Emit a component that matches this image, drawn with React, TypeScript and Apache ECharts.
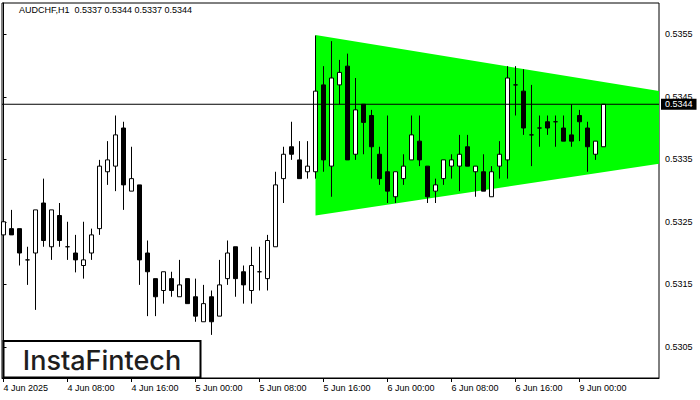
import React, { useEffect, useRef } from "react";
import * as echarts from "echarts";

const FONT = "'Liberation Sans', Arial, sans-serif";

const titleText = "AUDCHF,H1  0.5337 0.5344 0.5337 0.5344";
const currentPrice = 0.53438;
const currentPriceLabel = "0.5344";

const xTickIndex = [0, 8, 16, 24, 32, 40, 48, 56, 64, 72];
const xTickLabels = [
  "4 Jun 2025", "4 Jun 08:00", "4 Jun 16:00", "5 Jun 00:00", "5 Jun 08:00",
  "5 Jun 16:00", "6 Jun 00:00", "6 Jun 08:00", "6 Jun 16:00", "9 Jun 00:00",
];
const yTickValues = [0.5305, 0.5315, 0.5325, 0.5335, 0.5345, 0.5355];

const openP = [
  0.53229, 0.53239, 0.53239, 0.53189, 0.53200, 0.53280, 0.53210, 0.53260, 0.53210, 0.53200,
  0.53180, 0.53200, 0.53239, 0.53330, 0.53339, 0.53400, 0.53299, 0.53309, 0.53200, 0.53159,
  0.53140, 0.53159, 0.53130, 0.53159, 0.53130, 0.53090, 0.53130, 0.53099, 0.53159, 0.53210,
  0.53170, 0.53140, 0.53170, 0.53159, 0.53210, 0.53319, 0.53370, 0.53349, 0.53330, 0.53330,
  0.53469, 0.53339, 0.53469, 0.53499, 0.53358, 0.53438, 0.53420, 0.53358, 0.53330, 0.53290,
  0.53319, 0.53349, 0.53379, 0.53339, 0.53299, 0.53319, 0.53339, 0.53339, 0.53370, 0.53330,
  0.53330, 0.53290, 0.53339, 0.53349, 0.53469, 0.53459, 0.53389, 0.53400, 0.53410, 0.53410,
  0.53400, 0.53389, 0.53420, 0.53400, 0.53358, 0.53370,
];
const closeP = [
  0.53250, 0.53229, 0.53200, 0.53189, 0.53269, 0.53220, 0.53269, 0.53220, 0.53210, 0.53189,
  0.53189, 0.53229, 0.53339, 0.53349, 0.53389, 0.53309, 0.53319, 0.53189, 0.53170, 0.53130,
  0.53170, 0.53140, 0.53149, 0.53119, 0.53099, 0.53119, 0.53090, 0.53149, 0.53200, 0.53159,
  0.53149, 0.53180, 0.53170, 0.53220, 0.53309, 0.53358, 0.53358, 0.53319, 0.53339, 0.53459,
  0.53349, 0.53480, 0.53489, 0.53349, 0.53429, 0.53409, 0.53370, 0.53319, 0.53299, 0.53330,
  0.53339, 0.53389, 0.53349, 0.53290, 0.53309, 0.53349, 0.53349, 0.53358, 0.53339, 0.53339,
  0.53299, 0.53330, 0.53358, 0.53480, 0.53469, 0.53400, 0.53389, 0.53400, 0.53400, 0.53410,
  0.53379, 0.53379, 0.53410, 0.53370, 0.53379, 0.53438,
];
const lowP = [
  0.53189, 0.53229, 0.53180, 0.53149, 0.53109, 0.53210, 0.53189, 0.53210, 0.53189, 0.53169,
  0.53159, 0.53189, 0.53229, 0.53309, 0.53299, 0.53269, 0.53299, 0.53149, 0.53099, 0.53099,
  0.53119, 0.53130, 0.53130, 0.53119, 0.53090, 0.53090, 0.53069, 0.53099, 0.53149, 0.53130,
  0.53119, 0.53119, 0.53140, 0.53140, 0.53210, 0.53280, 0.53349, 0.53319, 0.53319, 0.53319,
  0.53330, 0.53290, 0.53438, 0.53349, 0.53349, 0.53358, 0.53319, 0.53309, 0.53280, 0.53280,
  0.53309, 0.53349, 0.53339, 0.53280, 0.53280, 0.53309, 0.53319, 0.53299, 0.53339, 0.53290,
  0.53299, 0.53290, 0.53319, 0.53319, 0.53420, 0.53389, 0.53339, 0.53370, 0.53389, 0.53370,
  0.53379, 0.53370, 0.53379, 0.53330, 0.53349, 0.53370,
];
const highP = [
  0.53260, 0.53269, 0.53239, 0.53210, 0.53269, 0.53319, 0.53269, 0.53280, 0.53250, 0.53229,
  0.53250, 0.53239, 0.53349, 0.53379, 0.53420, 0.53410, 0.53370, 0.53309, 0.53220, 0.53159,
  0.53170, 0.53170, 0.53189, 0.53159, 0.53159, 0.53149, 0.53140, 0.53189, 0.53220, 0.53210,
  0.53180, 0.53210, 0.53210, 0.53229, 0.53330, 0.53370, 0.53410, 0.53379, 0.53379, 0.53548,
  0.53499, 0.53539, 0.53509, 0.53519, 0.53480, 0.53438, 0.53429, 0.53370, 0.53420, 0.53330,
  0.53358, 0.53420, 0.53420, 0.53339, 0.53319, 0.53349, 0.53358, 0.53389, 0.53389, 0.53339,
  0.53358, 0.53339, 0.53379, 0.53499, 0.53499, 0.53494, 0.53469, 0.53420, 0.53420, 0.53420,
  0.53420, 0.53438, 0.53429, 0.53410, 0.53379, 0.53438,
];

// symmetrical triangle pattern (bar index, price)
const patternX = [39, 81.94];
const patternTop = [0.53549, 0.53459];
const patternBottom = [0.5326, 0.53343];

const X_MIN = -0.1875;
const X_MAX = 81.9375;

export default function App() {
  const ref = useRef<HTMLDivElement>(null);

  useEffect(() => {
    if (!ref.current) return;
    const chart = echarts.init(ref.current, undefined, { renderer: "svg" });

    const candles = openP.map((o, i) => [i, o, closeP[i], lowP[i], highP[i]]);
    const tri = [
      [patternX[0], patternTop[0]],
      [patternX[1], patternTop[1]],
      [patternX[1], patternBottom[1]],
      [patternX[0], patternBottom[0]],
    ];

    chart.setOption({
      animation: false,
      backgroundColor: "#ffffff",
      title: {
        text: titleText,
        left: 19,
        top: 5,
        padding: 0,
        textStyle: { fontSize: 9, fontWeight: "normal", color: "#000", fontFamily: FONT },
      },
      grid: {
        left: 2,
        right: 41,
        top: 3,
        bottom: 22,
        show: true,
        borderColor: "#000",
        borderWidth: 1,
        backgroundColor: "transparent",
      },
      xAxis: {
        type: "value",
        min: X_MIN,
        max: X_MAX,
        splitLine: { show: false },
        axisLine: { show: true, lineStyle: { color: "#000", width: 1 } },
        axisTick: { show: true, length: 4, lineStyle: { color: "#000" }, customValues: xTickIndex },
        axisLabel: {
          show: true,
          customValues: xTickIndex,
          align: "left",
          margin: 5,
          fontSize: 9,
          color: "#000",
          fontFamily: FONT,
          formatter: (v: number) => xTickLabels[xTickIndex.indexOf(Math.round(v))] ?? "",
        },
      },
      yAxis: {
        type: "value",
        position: "right",
        min: 0.53,
        max: 0.536,
        splitLine: { show: false },
        axisLine: { show: true, lineStyle: { color: "#000", width: 1 } },
        axisTick: { show: true, length: 3, lineStyle: { color: "#000" }, customValues: yTickValues },
        axisLabel: {
          show: true,
          customValues: yTickValues,
          margin: 6,
          fontSize: 9,
          color: "#000",
          fontFamily: FONT,
          formatter: (v: number) => v.toFixed(4),
        },
      },
      series: [
        {
          type: "custom",
          z: 1,
          silent: true,
          clip: true,
          encode: { x: 0, y: 1 },
          data: [[patternX[0], patternTop[0]]],
          renderItem: (_params: any, api: any) => {
            const pts = tri.map((p) => api.coord(p));
            return {
              type: "polygon",
              shape: { points: pts },
              style: { fill: "#00ff00", stroke: "none" },
            };
          },
        },
        {
          type: "candlestick",
          z: 3,
          barWidth: 4,
          encode: { x: 0, y: [1, 2, 3, 4] },
          data: candles,
          itemStyle: {
            color: "#ffffff",
            color0: "#000000",
            borderColor: "#000000",
            borderColor0: "#000000",
            borderColorDoji: "#000000",
            borderWidth: 1,
          },
        },
        {
          type: "line",
          z: 5,
          silent: true,
          clip: false,
          symbol: "none",
          data: [
            [X_MIN, currentPrice],
            [X_MAX, currentPrice],
          ],
          lineStyle: { color: "#000", width: 1 },
          endLabel: {
            show: true,
            distance: 2,
            formatter: currentPriceLabel,
            backgroundColor: "#000",
            color: "#fff",
            fontSize: 9,
            fontFamily: FONT,
            padding: [1, 4, 1, 4],
            lineHeight: 9,
          },
        },
      ],
      graphic: [
        {
          type: "group",
          z: 100,
          children: [
            {
              type: "rect",
              shape: { x: 3.5, y: 341, width: 197, height: 36.5 },
              style: { fill: "#fff", stroke: "#000", lineWidth: 2 },
            },
            {
              type: "text",
              x: 102,
              y: 360,
              style: {
                text: "InstaFintech",
                fontSize: 27,
                fontFamily: "Inter, 'Noto Sans', sans-serif",
                fontWeight: 500,
                fill: "#1e1e1e",
                align: "center",
                verticalAlign: "middle",
              },
            },
          ],
        },
      ],
    });

    return () => chart.dispose();
  }, []);

  return (
    <div
      ref={ref}
      style={{ position: "fixed", left: 0, top: 0, width: 700, height: 400, background: "#fff" }}
    />
  );
}
